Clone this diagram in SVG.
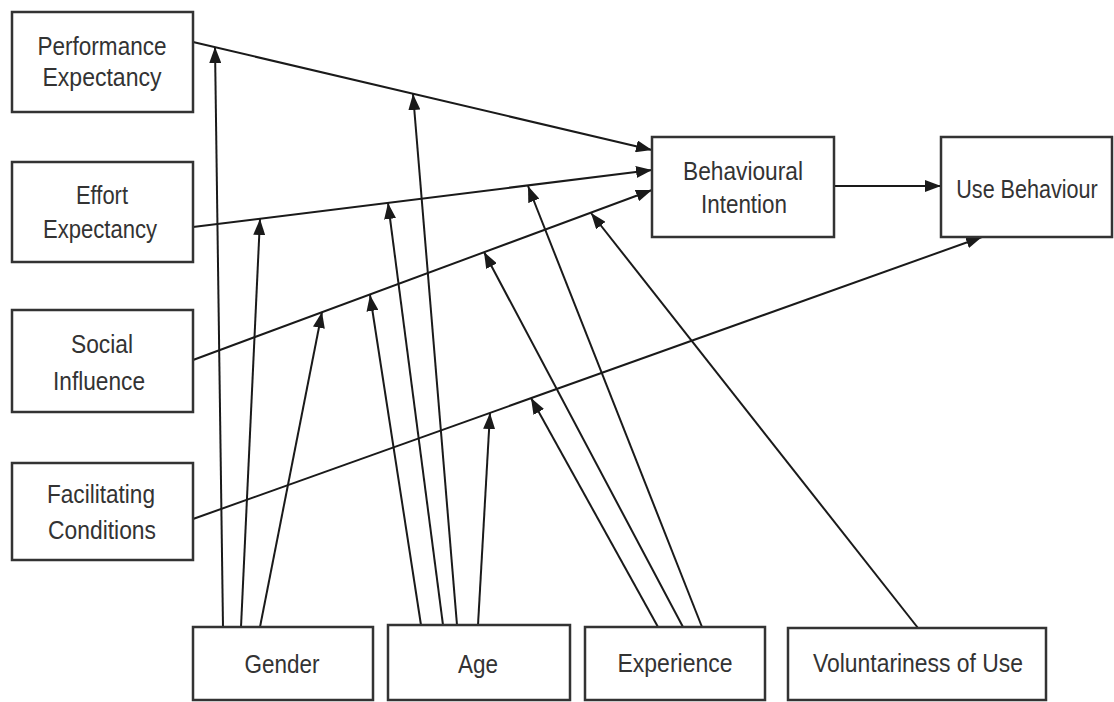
<svg xmlns="http://www.w3.org/2000/svg" width="1114" height="702" viewBox="0 0 1114 702">
<style>
.box{fill:#fff;stroke:#333;stroke-width:2.5}
.lbl{font-family:"Liberation Sans",Arial,sans-serif;font-size:26px;fill:#333;text-anchor:middle}
.ln{stroke:#1a1a1a;stroke-width:2;fill:none;marker-end:url(#ah)}
</style>
<defs>
<marker id="ah" viewBox="0 0 16 12" refX="16" refY="6" markerWidth="16" markerHeight="12" markerUnits="userSpaceOnUse" orient="auto">
<path d="M0,0 L16,6 L0,12 z" fill="#1a1a1a"/>
</marker>
</defs>
<rect width="1114" height="702" fill="#fff"/>
<g id="connectors">
<line class="ln" x1="193" y1="42" x2="652" y2="150"/>
<line class="ln" x1="193" y1="227" x2="652" y2="170"/>
<line class="ln" x1="193" y1="360" x2="652" y2="190"/>
<line class="ln" x1="193" y1="519" x2="982" y2="237"/>
<line class="ln" x1="834" y1="186" x2="941" y2="186"/>
<line class="ln" x1="223" y1="627" x2="215" y2="47"/>
<line class="ln" x1="241" y1="627" x2="260" y2="219"/>
<line class="ln" x1="260" y1="627" x2="322" y2="312"/>
<line class="ln" x1="421" y1="625" x2="370" y2="295"/>
<line class="ln" x1="443" y1="625" x2="388" y2="203"/>
<line class="ln" x1="457" y1="625" x2="413" y2="94"/>
<line class="ln" x1="478" y1="625" x2="490" y2="413"/>
<line class="ln" x1="658" y1="627" x2="531" y2="398"/>
<line class="ln" x1="683" y1="627" x2="484" y2="252"/>
<line class="ln" x1="702" y1="627" x2="528" y2="186"/>
<line class="ln" x1="918" y1="628" x2="591" y2="213"/>
</g>
<g id="performance-expectancy">
<rect class="box" x="12" y="12" width="181" height="100"/>
<text class="lbl" x="102" y="55" textLength="129" lengthAdjust="spacingAndGlyphs">Performance</text>
<text class="lbl" x="102" y="86" textLength="119" lengthAdjust="spacingAndGlyphs">Expectancy</text>
</g>
<g id="effort-expectancy">
<rect class="box" x="12" y="162" width="181" height="100"/>
<text class="lbl" x="102" y="204" textLength="52" lengthAdjust="spacingAndGlyphs">Effort</text>
<text class="lbl" x="100" y="238" textLength="114" lengthAdjust="spacingAndGlyphs">Expectancy</text>
</g>
<g id="social-influence">
<rect class="box" x="12" y="310" width="181" height="102"/>
<text class="lbl" x="102" y="353" textLength="62" lengthAdjust="spacingAndGlyphs">Social</text>
<text class="lbl" x="99" y="390" textLength="92" lengthAdjust="spacingAndGlyphs">Influence</text>
</g>
<g id="facilitating-conditions">
<rect class="box" x="12" y="463" width="181" height="97"/>
<text class="lbl" x="101" y="503" textLength="108" lengthAdjust="spacingAndGlyphs">Facilitating</text>
<text class="lbl" x="102" y="539" textLength="108" lengthAdjust="spacingAndGlyphs">Conditions</text>
</g>
<g id="behavioural-intention">
<rect class="box" x="652" y="137" width="182" height="100"/>
<text class="lbl" x="743" y="180" textLength="120" lengthAdjust="spacingAndGlyphs">Behavioural</text>
<text class="lbl" x="744" y="213" textLength="86" lengthAdjust="spacingAndGlyphs">Intention</text>
</g>
<g id="use-behaviour">
<rect class="box" x="941" y="137" width="171" height="100"/>
<text class="lbl" transform="translate(1027,198) scale(0.83,1)" x="0" y="0">Use Behaviour</text>
</g>
<g id="gender">
<rect class="box" x="193" y="627" width="180" height="73"/>
<text class="lbl" x="282" y="673" textLength="75" lengthAdjust="spacingAndGlyphs">Gender</text>
</g>
<g id="age">
<rect class="box" x="388" y="625" width="182" height="75"/>
<text class="lbl" x="478" y="673" textLength="40" lengthAdjust="spacingAndGlyphs">Age</text>
</g>
<g id="experience">
<rect class="box" x="585" y="627" width="180" height="73"/>
<text class="lbl" x="675" y="672" textLength="115" lengthAdjust="spacingAndGlyphs">Experience</text>
</g>
<g id="voluntariness-of-use">
<rect class="box" x="788" y="628" width="258" height="72"/>
<text class="lbl" x="918" y="672" textLength="210" lengthAdjust="spacingAndGlyphs">Voluntariness of Use</text>
</g>
</svg>
